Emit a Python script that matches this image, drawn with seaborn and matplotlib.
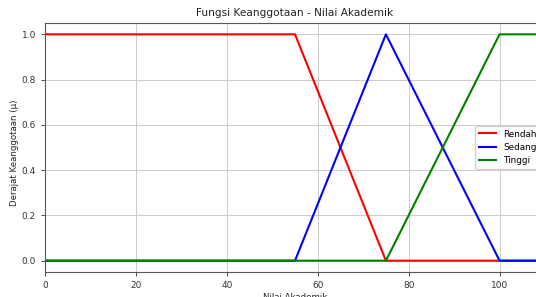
import matplotlib
matplotlib.use("Agg")
import matplotlib.pyplot as plt
import seaborn as sns
import pandas as pd

nilai = [0, 55, 75, 100, 120]
rendah = [1, 1, 0, 0, 0]
sedang = [0, 0, 1, 0, 0]
tinggi = [0, 0, 0, 1, 1]
kategori = ["Rendah", "Sedang", "Tinggi"]
warna = ["red", "blue", "green"]

df = pd.DataFrame({"Nilai": nilai, "Rendah": rendah, "Sedang": sedang, "Tinggi": tinggi})

fig = plt.figure(figsize=(5.36, 2.97), dpi=100)
ax = fig.add_axes([45 / 536, 25 / 297, 500 / 536, 249 / 297])

for nama, c in zip(kategori, warna):
    sns.lineplot(data=df, x="Nilai", y=nama, color=c, linewidth=1.5, label=nama, ax=ax)

ax.set_xlim(0, 110)
ax.set_ylim(-0.05, 1.05)
ax.set_xticks([0, 20, 40, 60, 80, 100])
ax.set_yticks([0.0, 0.2, 0.4, 0.6, 0.8, 1.0])
ax.tick_params(labelsize=6.5, colors="#333333", length=3, width=0.6)
ax.grid(True, color="#cccccc", linewidth=0.7)
for s in ax.spines.values():
    s.set_color("#555555")
    s.set_linewidth(0.8)

ax.set_title("Fungsi Keanggotaan - Nilai Akademik", fontsize=7.6, color="#222222", pad=5)
ax.set_xlabel("Nilai Akademik", fontsize=6.2, color="#222222")
ax.set_ylabel("Derajat Keanggotaan (μ)", fontsize=6.2, color="#222222")
ax.xaxis.set_label_coords(0.5, -0.085)
ax.yaxis.set_label_coords(-0.052, 0.48)
ax.legend(loc="center right", fontsize=6.4, framealpha=0.9, handlelength=2.0)

fig.savefig("out.png", dpi=100)
plt.close(fig)
